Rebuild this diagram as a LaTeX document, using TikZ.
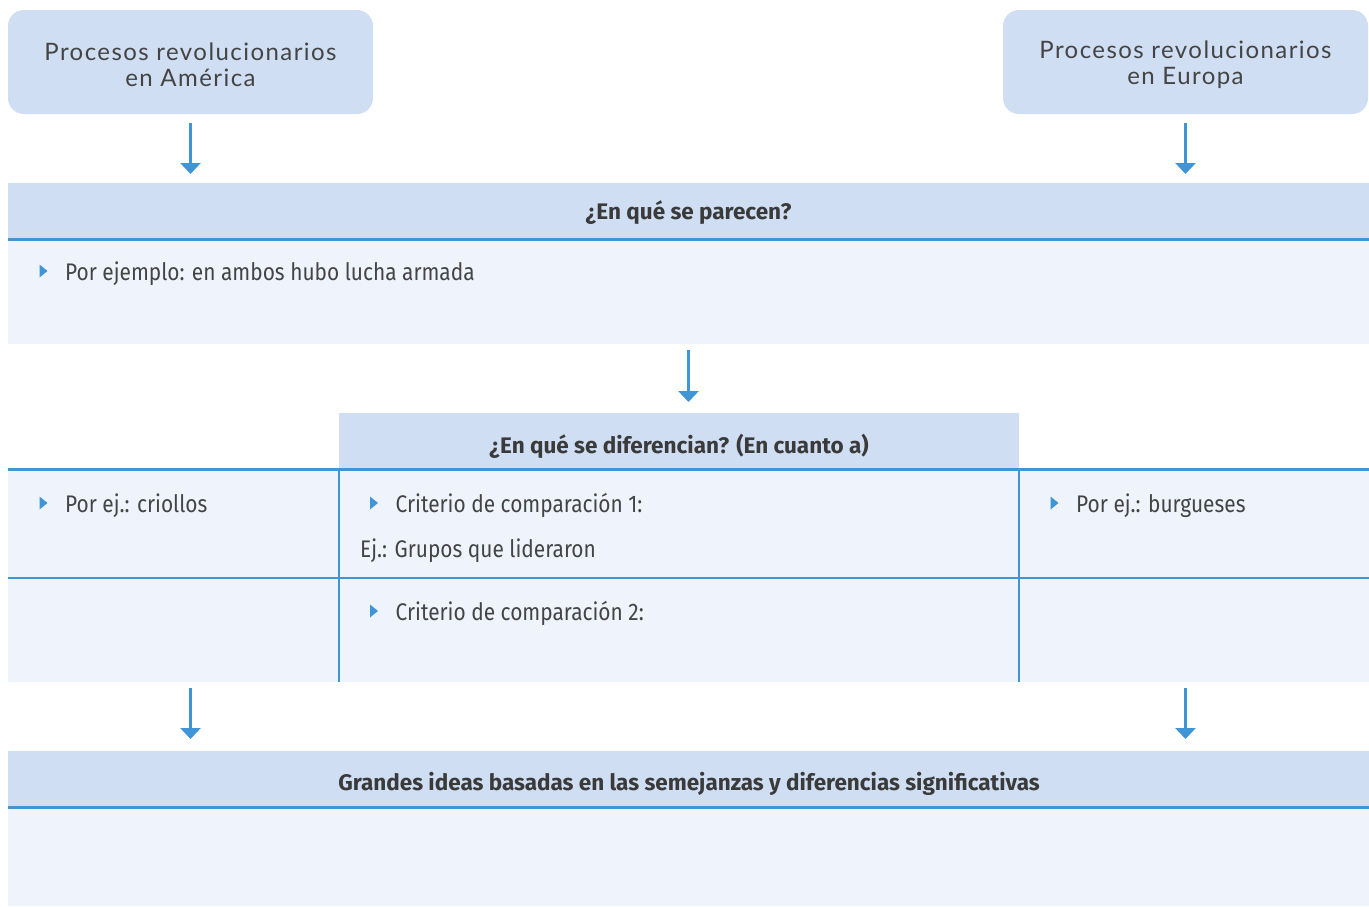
\documentclass[tikz,border=0pt]{standalone}
\usepackage{fontspec}
\setmainfont{Fira Sans}[FakeStretch=0.87]
\newfontfamily\hfont{Fira Sans}
\newfontfamily\topfont{Lato}[LetterSpace=6]
\usetikzlibrary{arrows.meta,calc}
\definecolor{hd}{HTML}{CFDEF3}
\definecolor{bd}{HTML}{EEF3FC}
\definecolor{ln}{HTML}{3F95D5}
\definecolor{tx}{HTML}{444444}
\definecolor{hx}{HTML}{3A3A3A}
\begin{document}
\begin{tikzpicture}[x=1pt,y=-1pt,
  cell/.style={rectangle, inner sep=0pt, outer sep=0pt, anchor=north west, fill=#1},
  topbox/.style={rectangle, rounded corners=16pt, fill=hd, inner sep=0pt, outer sep=0pt,
     minimum width=365pt, minimum height=104pt, anchor=north west},
  toptext/.style={align=center, text=tx, inner sep=0pt, font=\topfont\fontsize{24}{26}\selectfont},
  htext/.style={anchor=base, text=hx, inner sep=0pt, font=\hfont\bfseries\fontsize{22.5}{26}\selectfont},
  btext/.style={anchor=base west, text=tx, inner sep=0pt, font=\fontsize{24}{26}\selectfont},
  arr/.style={draw=ln, line width=3pt, -{Triangle[width=20pt,length=11pt]}},
  thickline/.style={draw=ln, line width=3pt},
  thinline/.style={draw=ln, line width=1.5pt},
  bul/.style={fill=ln}
]
\useasboundingbox (0,0) rectangle (1369,906);

% top boxes
\node[topbox] (boxL) at (8,10) {};
\node[topbox] (boxR) at (1003,10) {};
\node[toptext] (boxLt) at (190.5,65) {Procesos revolucionarios\\en América};
\node[toptext] (boxRt) at (1185.5,65) {Procesos revolucionarios\\en Europa};

% first table
\node[cell=hd, minimum width=1361pt, minimum height=56pt] (h1) at (8,183) {};
\node[cell=bd, minimum width=1361pt, minimum height=104pt] (b1) at (8,240) {};
\draw[thickline] (h1.south west) -- (h1.south east);
\node[htext] (h1t) at (688.5,219) {¿En qué se parecen?};
\node[btext] (b1t) at (65,280) {Por ejemplo: en ambos hubo lucha armada};
\fill[bul] ([xshift=-25.5pt,yshift=15.5pt]b1t.base west) -- ++(0,13) -- ++(8,-6.5) -- cycle;

% second table
\node[cell=hd, minimum width=680pt, minimum height=56pt] (h2) at (339,413) {};
\node[cell=bd, minimum width=331pt, minimum height=109pt] (c11) at (8,469) {};
\node[cell=bd, minimum width=680pt, minimum height=109pt] (c12) at (339,469) {};
\node[cell=bd, minimum width=350pt, minimum height=109pt] (c13) at (1019,469) {};
\node[cell=bd, minimum width=331pt, minimum height=104pt] (c21) at (8,578) {};
\node[cell=bd, minimum width=680pt, minimum height=104pt] (c22) at (339,578) {};
\node[cell=bd, minimum width=350pt, minimum height=104pt] (c23) at (1019,578) {};
\draw[thinline] (c11.south west) -- (c13.south east);
\draw[thinline] (c12.north west) -- (c22.south west);
\draw[thinline] (c12.north east) -- (c22.south east);
\draw[thickline] (c11.north west) -- (c13.north east);
\node[htext] (h2t) at (679,453) {¿En qué se diferencian? (En cuanto a)};

\node[btext] (c11t) at (65,512) {Por ej.: criollos};
\fill[bul] ([xshift=-25.5pt,yshift=15.5pt]c11t.base west) -- ++(0,13) -- ++(8,-6.5) -- cycle;
\node[btext] (c12t) at (395.5,512) {Criterio de comparación 1:};
\fill[bul] ([xshift=-25.5pt,yshift=15.5pt]c12t.base west) -- ++(0,13) -- ++(8,-6.5) -- cycle;
\node[btext] (c12u) at (360,557) {Ej.: Grupos que lideraron};
\node[btext] (c13t) at (1076,512) {Por ej.: burgueses};
\fill[bul] ([xshift=-25.5pt,yshift=15.5pt]c13t.base west) -- ++(0,13) -- ++(8,-6.5) -- cycle;
\node[btext] (c22t) at (395.5,620) {Criterio de comparación 2:};
\fill[bul] ([xshift=-25.5pt,yshift=15.5pt]c22t.base west) -- ++(0,13) -- ++(8,-6.5) -- cycle;

% third table
\node[cell=hd, minimum width=1361pt, minimum height=56pt] (h3) at (8,751) {};
\node[cell=bd, minimum width=1361pt, minimum height=99pt] (b3) at (8,807) {};
\draw[thickline] (h3.south west) -- (h3.south east);
\node[htext] (h3t) at (689,790) {Grandes ideas basadas en las semejanzas y diferencias significativas};

% arrows
\draw[arr, shorten <=9pt, shorten >=9pt] (boxL.south) -- (boxL.south |- h1.north);
\draw[arr, shorten <=9pt, shorten >=9pt] (boxR.south) -- (boxR.south |- h1.north);
\draw[arr, shorten <=6pt, shorten >=11pt] (b1.south) -- (b1.south |- h2.north);
\draw[arr, shorten <=6pt, shorten >=12pt] (c21.south -| boxL.south) -- (h3.north -| boxL.south);
\draw[arr, shorten <=6pt, shorten >=12pt] (c23.south -| boxR.south) -- (h3.north -| boxR.south);
\end{tikzpicture}
\end{document}
